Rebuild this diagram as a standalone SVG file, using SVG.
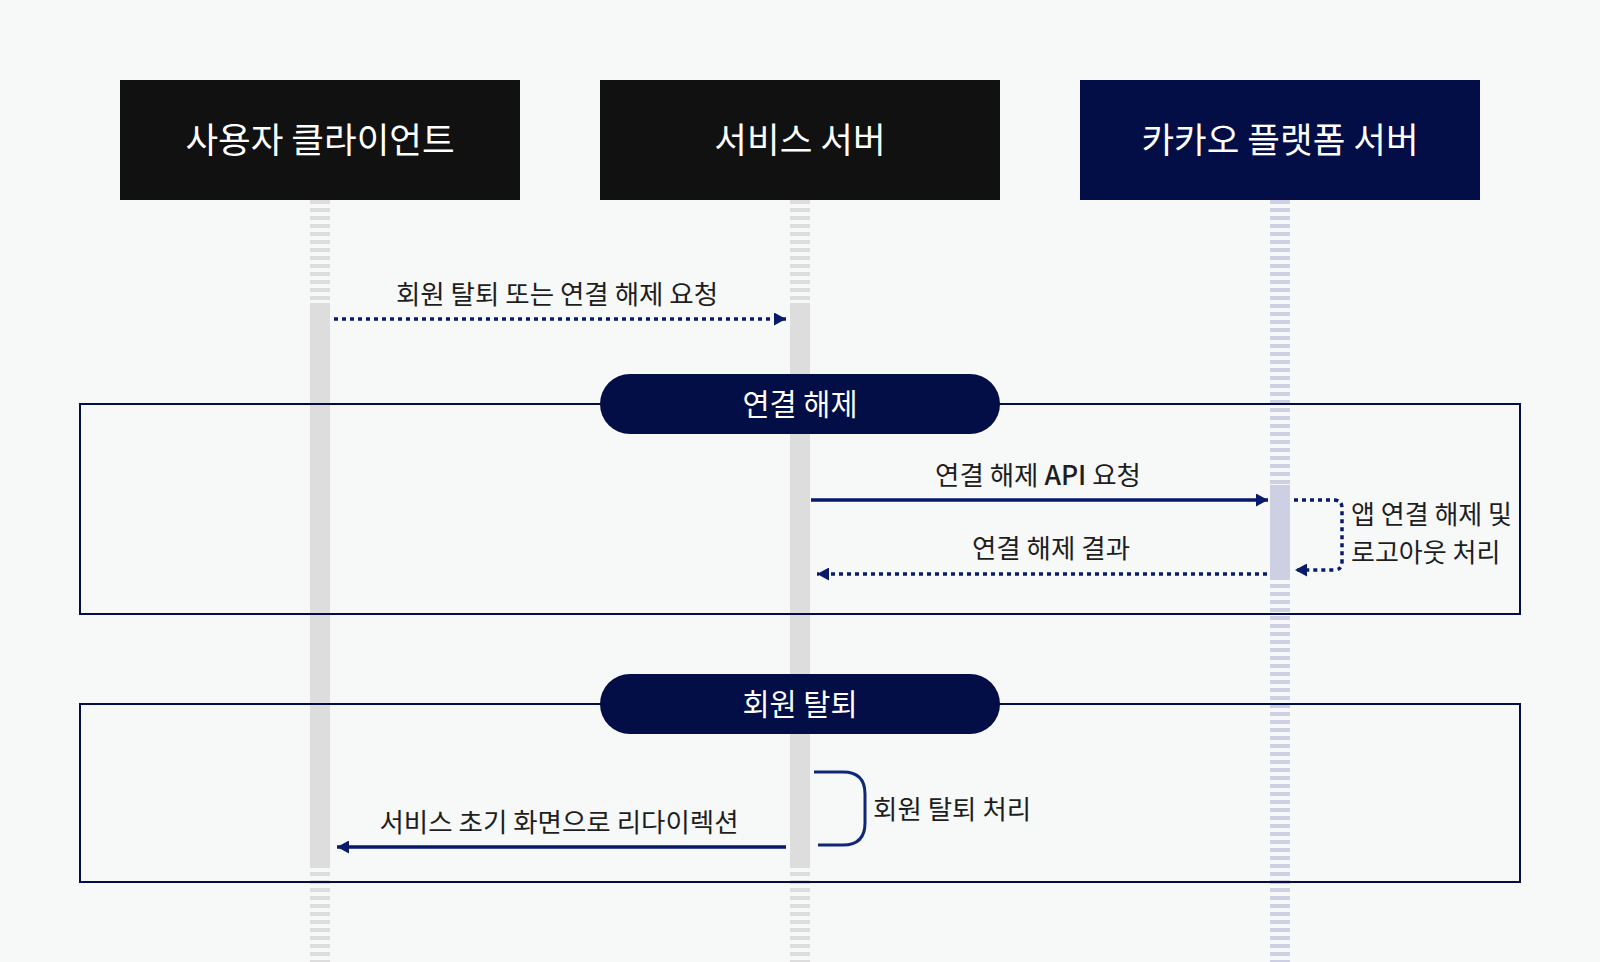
<svg xmlns="http://www.w3.org/2000/svg" width="1600" height="962" viewBox="0 0 1600 962">
<style>
.t{font-family:"Noto Sans CJK KR","Noto Sans",sans-serif;}
.hd{font-size:35.5px;fill:#ffffff;text-anchor:middle;}
.pl{font-size:29.5px;fill:#ffffff;text-anchor:middle;}
.lb{font-size:26.5px;fill:#1e1e1e;}
.sm{font-size:26px;}
.mid{text-anchor:middle;}
.ll{stroke-width:20;stroke-dasharray:4 4;fill:none;}
.gray{stroke:#dddddd;}
.lav{stroke:#cdd0e3;}
.msg{stroke:#0a1a6b;stroke-width:3.5;fill:none;}
.dot{stroke-dasharray:4 4;}
.grp{fill:none;stroke:#020e45;stroke-width:2;}
</style>
<defs>
<marker id="ah" markerWidth="12" markerHeight="13" refX="12" refY="6.5" orient="auto" markerUnits="userSpaceOnUse">
<path d="M0,0 L12,6.5 L0,13 Z" fill="#0a1a6b"/>
</marker>
</defs>
<rect width="1600" height="962" fill="#f7f8f8"/>

<g id="lifelines">
<line class="ll gray" x1="320" y1="200" x2="320" y2="962"/>
<line class="ll gray" x1="800" y1="200" x2="800" y2="962"/>
<line class="ll lav" x1="1280" y1="200" x2="1280" y2="962"/>
<rect x="310" y="303" width="20" height="561" fill="#dddddd"/>
<rect x="790" y="303" width="20" height="561" fill="#dddddd"/>
<rect x="1270" y="485" width="20" height="92" fill="#cdd0e3"/>
</g>

<g id="group-unlink">
<rect class="grp" x="80" y="404" width="1440" height="210"/>
<rect x="600" y="374" width="400" height="60" rx="30" fill="#020e45"/>
<text class="t pl" x="800" y="415">연결 해제</text>
</g>

<g id="group-withdraw">
<rect class="grp" x="80" y="704" width="1440" height="178"/>
<rect x="600" y="674" width="400" height="60" rx="30" fill="#020e45"/>
<text class="t pl" x="800" y="715">회원 탈퇴</text>
</g>

<g id="node-client">
<rect x="120" y="80" width="400" height="120" fill="#111111"/>
<text class="t hd" x="320" y="153">사용자 클라이언트</text>
</g>
<g id="node-service">
<rect x="600" y="80" width="400" height="120" fill="#111111"/>
<text class="t hd" x="800" y="153">서비스 서버</text>
</g>
<g id="node-kakao">
<rect x="1080" y="80" width="400" height="120" fill="#020e45"/>
<text class="t hd" x="1280" y="153">카카오 플랫폼 서버</text>
</g>

<g id="connectors">
<line class="msg dot" x1="334" y1="319" x2="786" y2="319" marker-end="url(#ah)"/>
<line class="msg" x1="811" y1="500" x2="1268" y2="500" marker-end="url(#ah)"/>
<path class="msg dot" d="M1294,500 H1334 Q1342,500 1342,508 V562 Q1342,570 1334,570 H1295" marker-end="url(#ah)"/>
<line class="msg dot" x1="1267" y1="574" x2="817" y2="574" marker-end="url(#ah)"/>
<path d="M814,772 H843 Q865,772 865,794 V823 Q865,845 843,845 H818" fill="none" stroke="#0f2777" stroke-width="3"/>
<line class="msg" x1="786" y1="847" x2="337" y2="847" marker-end="url(#ah)"/>
</g>

<g id="labels">
<text class="t lb mid" x="557" y="304">회원 탈퇴 또는 연결 해제 요청</text>
<text class="t lb mid" x="1038" y="485">연결 해제 <tspan font-weight="500">API</tspan> 요청</text>
<text class="t lb mid" x="1051" y="558">연결 해제 결과</text>
<text class="t lb sm" x="1351" y="524">앱 연결 해제 및</text>
<text class="t lb sm" x="1351" y="562">로고아웃 처리</text>
<text class="t lb" x="873" y="819">회원 탈퇴 처리</text>
<text class="t lb mid" x="559" y="832">서비스 초기 화면으로 리다이렉션</text>
</g>
</svg>
